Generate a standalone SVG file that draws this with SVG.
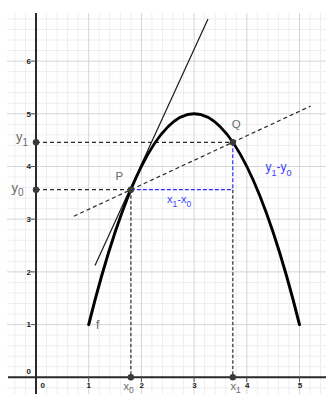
<svg xmlns="http://www.w3.org/2000/svg" width="326" height="394" viewBox="0 0 326 394">
<style>
.minor{stroke:#eeeeee;stroke-width:1;fill:none}
.major{stroke:#d4d4d4;stroke-width:1;fill:none}
.axis{stroke:#2a2a2a;stroke-width:2;fill:none}
.tick{stroke:#555;stroke-width:1;fill:none}
.tl{font-family:"Liberation Sans",Arial,sans-serif;font-size:8px;font-weight:bold;fill:#222}
.lbl{font-family:"Liberation Sans",Arial,sans-serif;fill:#6a6a6a}
.blbl{font-family:"Liberation Sans",Arial,sans-serif;fill:#3b3bff}
.dash{stroke:#2a2a2a;stroke-width:1.2;stroke-dasharray:4 3;fill:none}
.gdash{stroke:#555;stroke-width:1.5;stroke-dasharray:3.5 2;fill:none}
.bdash{stroke:#2b2bff;stroke-width:1.2;stroke-dasharray:4 2;fill:none}
.pt{fill:#3a3a3a}
</style>
<rect x="0" y="0" width="326" height="394" fill="#ffffff"/>
<g id="grid">
<path class="minor" d="M14.92 13V394M25.46 13V394M46.54 13V394M57.08 13V394M67.62 13V394M78.16 13V394M99.24 13V394M109.78 13V394M120.32 13V394M130.86 13V394M151.94 13V394M162.48 13V394M173.02 13V394M183.56 13V394M204.64 13V394M215.18 13V394M225.72 13V394M236.26 13V394M257.34 13V394M267.88 13V394M278.42 13V394M288.96 13V394M310.04 13V394M320.58 13V394"/>
<path class="minor" d="M7 387.84H326M7 366.76H326M7 356.22H326M7 345.68H326M7 335.14H326M7 314.06H326M7 303.52H326M7 292.98H326M7 282.44H326M7 261.36H326M7 250.82H326M7 240.28H326M7 229.74H326M7 208.66H326M7 198.12H326M7 187.58H326M7 177.04H326M7 155.96H326M7 145.42H326M7 134.88H326M7 124.34H326M7 103.26H326M7 92.72H326M7 82.18H326M7 71.64H326M7 50.56H326M7 40.02H326M7 29.48H326M7 18.94H326"/>
<path class="major" d="M88.7 13V394M141.4 13V394M194.1 13V394M246.8 13V394M299.5 13V394"/>
<path class="major" d="M7 324.6H326M7 271.9H326M7 219.2H326M7 166.5H326M7 113.8H326M7 61.1H326"/>
</g>
<g id="axes">
<path class="axis" d="M36 13V394M8 377.3H326"/>
<path class="tick" d="M31 324.6H36M31 271.9H36M31 219.2H36M31 166.5H36M31 113.8H36M31 61.1H36M88.7 377.3V382M141.4 377.3V382M194.1 377.3V382M246.8 377.3V382M299.5 377.3V382"/>
<g class="tl" text-anchor="end">
<text x="31" y="64">6</text>
<text x="31" y="116.6">5</text>
<text x="31" y="169.3">4</text>
<text x="31" y="222">3</text>
<text x="31" y="274.7">2</text>
<text x="31" y="327.4">1</text>
<text x="31" y="374">0</text>
</g>
<g class="tl" text-anchor="middle">
<text x="42.7" y="387.5">0</text>
<text x="88.7" y="387.5">1</text>
<text x="141.8" y="387.5">2</text>
<text x="194.5" y="387.5">3</text>
<text x="247.2" y="387.5">4</text>
<text x="299.9" y="387.5">5</text>
</g>
</g>
<g id="connectors">
<path class="dash" d="M36 142.3H232.8M36 189.7H130.86"/>
<path class="dash" d="M73.9 216.2L310.6 106.1"/>
<path class="gdash" d="M130.86 189.7V377.3M232.8 189.7V377.3"/>
<path class="bdash" d="M130.86 189.7H232.8M232.8 142.3V189.7"/>
<path id="tangent" d="M95 265.5L208 19" stroke="#1a1a1a" stroke-width="1.2" fill="none"/>
<path id="f-curve" d="M88.7 324.6Q194.1 -97 299.5 324.6" stroke="#000" stroke-width="3" fill="none" stroke-linecap="round"/>
</g>
<g id="point-y1"><circle class="pt" cx="36" cy="142.3" r="3.2"/><text class="lbl" x="16" y="140.5" font-size="13">y<tspan font-size="10" dy="5">1</tspan></text></g>
<g id="point-y0"><circle class="pt" cx="36" cy="189.7" r="3.2"/><text class="lbl" x="11.5" y="191.5" font-size="13">y<tspan font-size="10" dy="4.5">0</tspan></text></g>
<g id="point-P"><circle class="pt" cx="130.86" cy="189.7" r="3.2"/><text class="lbl" x="115.5" y="179.5" font-size="11.5">P</text></g>
<g id="point-Q"><circle class="pt" cx="232.8" cy="142.3" r="3.2"/><text class="lbl" x="231.8" y="128" font-size="11.5">Q</text></g>
<g id="point-x0"><circle class="pt" cx="130.86" cy="377.3" r="3.2"/><text class="lbl" x="123.5" y="389.5" font-size="11">x<tspan font-size="8.5" dy="3">0</tspan></text></g>
<g id="point-x1"><circle class="pt" cx="232.8" cy="377.3" r="3.2"/><text class="lbl" x="230.5" y="390" font-size="11">x<tspan font-size="8.5" dy="3">1</tspan></text></g>
<g id="label-f"><text class="lbl" x="96" y="329.3" font-size="12">f</text></g>
<g id="label-dx"><text class="blbl" x="167" y="203.3" font-size="11">x<tspan font-size="8.5" dy="3.7">1</tspan><tspan dy="-3.7">-x</tspan><tspan font-size="8.5" dy="3.7">0</tspan></text></g>
<g id="label-dy"><text class="blbl" x="265.5" y="171" font-size="12">y<tspan font-size="9" dy="4.5">1</tspan><tspan dy="-4.5">-y</tspan><tspan font-size="9" dy="4.5">0</tspan></text></g>
</svg>
